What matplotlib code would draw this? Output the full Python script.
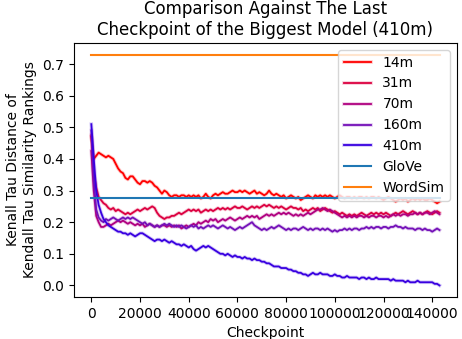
import numpy as np
import matplotlib
matplotlib.use("Agg")
import matplotlib.pyplot as plt
import matplotlib.patheffects as pe

# checkpoints every 1000 steps
checkpoints = np.arange(0, 144000, 1000)

d14m = [0.47, 0.40, 0.41, 0.42, 0.415, 0.41, 0.405, 0.41, 0.405, 0.40, 0.385, 0.37,
        0.36, 0.355, 0.34, 0.335, 0.345, 0.345, 0.335, 0.325, 0.32, 0.33, 0.33, 0.325,
        0.33, 0.325, 0.315, 0.31, 0.30, 0.29, 0.30, 0.295, 0.285, 0.28, 0.285, 0.285,
        0.28, 0.285, 0.285, 0.28, 0.285, 0.28, 0.285, 0.28, 0.285, 0.275, 0.28, 0.29,
        0.28, 0.275, 0.285, 0.29, 0.285, 0.29, 0.295, 0.29, 0.29, 0.295, 0.30, 0.295,
        0.295, 0.30, 0.295, 0.30, 0.295, 0.29, 0.295, 0.30, 0.29, 0.295, 0.29, 0.285,
        0.29, 0.30, 0.29, 0.285, 0.29, 0.285, 0.28, 0.285, 0.275, 0.28, 0.285, 0.28,
        0.275, 0.28, 0.27, 0.275, 0.28, 0.285, 0.28, 0.275, 0.285, 0.28, 0.285, 0.28,
        0.285, 0.28, 0.285, 0.28, 0.275, 0.28, 0.285, 0.28, 0.275, 0.28, 0.28, 0.275,
        0.28, 0.275, 0.28, 0.28, 0.275, 0.28, 0.275, 0.28, 0.28, 0.275, 0.28, 0.275,
        0.27, 0.275, 0.28, 0.275, 0.27, 0.265, 0.27, 0.275, 0.27, 0.275, 0.265, 0.27,
        0.275, 0.27, 0.275, 0.27, 0.275, 0.27, 0.27, 0.275, 0.27, 0.265, 0.26, 0.265]

d31m = [0.475, 0.36, 0.31, 0.28, 0.27, 0.26, 0.255, 0.245, 0.24, 0.245, 0.235, 0.24,
        0.235, 0.23, 0.225, 0.23, 0.225, 0.23, 0.235, 0.24, 0.235, 0.24, 0.245, 0.24,
        0.245, 0.25, 0.245, 0.23, 0.22, 0.215, 0.21, 0.215, 0.215, 0.22, 0.22, 0.225,
        0.23, 0.225, 0.23, 0.235, 0.24, 0.235, 0.24, 0.235, 0.24, 0.23, 0.235, 0.24,
        0.235, 0.24, 0.235, 0.24, 0.245, 0.24, 0.245, 0.24, 0.245, 0.24, 0.245, 0.25,
        0.245, 0.245, 0.25, 0.245, 0.24, 0.245, 0.25, 0.245, 0.25, 0.245, 0.25, 0.255,
        0.25, 0.255, 0.25, 0.245, 0.25, 0.245, 0.25, 0.245, 0.24, 0.245, 0.25, 0.245,
        0.245, 0.24, 0.245, 0.235, 0.24, 0.235, 0.24, 0.245, 0.24, 0.245, 0.235, 0.24,
        0.245, 0.24, 0.235, 0.23, 0.235, 0.23, 0.225, 0.23, 0.225, 0.22, 0.225, 0.22,
        0.225, 0.22, 0.225, 0.23, 0.225, 0.22, 0.225, 0.23, 0.225, 0.23, 0.225, 0.23,
        0.225, 0.23, 0.225, 0.22, 0.225, 0.23, 0.225, 0.23, 0.235, 0.23, 0.225, 0.23,
        0.235, 0.23, 0.225, 0.23, 0.225, 0.23, 0.235, 0.23, 0.225, 0.23, 0.235, 0.23]

d70m = [0.425, 0.30, 0.22, 0.20, 0.185, 0.185, 0.19, 0.195, 0.19, 0.195, 0.20, 0.205,
        0.20, 0.205, 0.20, 0.195, 0.20, 0.195, 0.19, 0.195, 0.19, 0.195, 0.185, 0.19,
        0.195, 0.19, 0.185, 0.19, 0.185, 0.19, 0.19, 0.185, 0.19, 0.185, 0.19, 0.185,
        0.19, 0.18, 0.185, 0.19, 0.185, 0.19, 0.195, 0.19, 0.20, 0.195, 0.20, 0.205,
        0.20, 0.21, 0.205, 0.21, 0.20, 0.205, 0.21, 0.205, 0.21, 0.215, 0.21, 0.205,
        0.21, 0.215, 0.21, 0.215, 0.22, 0.215, 0.22, 0.215, 0.22, 0.21, 0.215, 0.22,
        0.225, 0.22, 0.225, 0.22, 0.225, 0.23, 0.225, 0.23, 0.225, 0.23, 0.225, 0.22,
        0.225, 0.22, 0.225, 0.22, 0.225, 0.23, 0.225, 0.23, 0.235, 0.24, 0.24, 0.245,
        0.24, 0.235, 0.24, 0.235, 0.23, 0.225, 0.22, 0.215, 0.22, 0.215, 0.22, 0.215,
        0.22, 0.215, 0.22, 0.22, 0.215, 0.22, 0.215, 0.22, 0.22, 0.215, 0.22, 0.22,
        0.215, 0.22, 0.215, 0.22, 0.225, 0.22, 0.225, 0.22, 0.225, 0.225, 0.22, 0.225,
        0.225, 0.23, 0.225, 0.23, 0.225, 0.23, 0.23, 0.225, 0.23, 0.235, 0.23, 0.225]

d160m = [0.49, 0.33, 0.24, 0.215, 0.205, 0.20, 0.21, 0.205, 0.21, 0.215, 0.21, 0.205,
         0.21, 0.215, 0.21, 0.215, 0.21, 0.215, 0.21, 0.205, 0.20, 0.195, 0.20, 0.19,
         0.195, 0.19, 0.185, 0.19, 0.185, 0.19, 0.195, 0.19, 0.195, 0.19, 0.185, 0.19,
         0.185, 0.19, 0.185, 0.18, 0.185, 0.19, 0.185, 0.19, 0.18, 0.185, 0.18, 0.185,
         0.19, 0.185, 0.19, 0.185, 0.18, 0.185, 0.19, 0.185, 0.18, 0.185, 0.18, 0.175,
         0.18, 0.185, 0.18, 0.185, 0.19, 0.195, 0.20, 0.19, 0.185, 0.18, 0.175, 0.18,
         0.175, 0.18, 0.185, 0.18, 0.185, 0.19, 0.185, 0.18, 0.175, 0.18, 0.175, 0.18,
         0.18, 0.175, 0.18, 0.185, 0.18, 0.175, 0.18, 0.175, 0.18, 0.18, 0.175, 0.18,
         0.175, 0.18, 0.175, 0.17, 0.175, 0.17, 0.175, 0.175, 0.18, 0.175, 0.18, 0.175,
         0.18, 0.18, 0.175, 0.18, 0.18, 0.185, 0.18, 0.185, 0.18, 0.185, 0.185, 0.18,
         0.185, 0.185, 0.18, 0.185, 0.185, 0.19, 0.185, 0.185, 0.18, 0.185, 0.18, 0.18,
         0.18, 0.175, 0.18, 0.18, 0.175, 0.18, 0.175, 0.175, 0.17, 0.175, 0.18, 0.175]

d410m = [0.51, 0.40, 0.30, 0.255, 0.23, 0.21, 0.20, 0.19, 0.185, 0.18, 0.175, 0.17,
         0.17, 0.165, 0.165, 0.16, 0.165, 0.16, 0.155, 0.16, 0.165, 0.165, 0.16, 0.155,
         0.15, 0.145, 0.14, 0.145, 0.145, 0.14, 0.145, 0.14, 0.135, 0.14, 0.135, 0.13,
         0.13, 0.125, 0.13, 0.125, 0.12, 0.125, 0.115, 0.11, 0.115, 0.12, 0.125, 0.12,
         0.125, 0.12, 0.115, 0.11, 0.105, 0.10, 0.10, 0.095, 0.10, 0.095, 0.09, 0.095,
         0.09, 0.09, 0.085, 0.09, 0.085, 0.085, 0.08, 0.085, 0.08, 0.08, 0.075, 0.075,
         0.07, 0.07, 0.065, 0.06, 0.06, 0.06, 0.055, 0.055, 0.055, 0.05, 0.05, 0.045,
         0.045, 0.04, 0.04, 0.035, 0.035, 0.03, 0.035, 0.04, 0.035, 0.035, 0.04, 0.035,
         0.035, 0.035, 0.03, 0.03, 0.035, 0.03, 0.03, 0.025, 0.025, 0.03, 0.025, 0.025,
         0.025, 0.025, 0.02, 0.025, 0.025, 0.02, 0.025, 0.02, 0.02, 0.025, 0.02, 0.02,
         0.02, 0.02, 0.02, 0.015, 0.02, 0.015, 0.015, 0.015, 0.015, 0.01, 0.015, 0.01,
         0.01, 0.01, 0.015, 0.01, 0.01, 0.01, 0.01, 0.01, 0.01, 0.005, 0.005, 0.0]

models = ['14m', '31m', '70m', '160m', '410m']
series = [d14m, d31m, d70m, d160m, d410m]
colors = ['#ff0000', '#dc0040', '#b00080', '#7410b8', '#3800e0']

glove = 0.278
wordsim = 0.73

fig = plt.figure(figsize=(4.62, 3.39), dpi=100)
ax = fig.add_subplot(111)
fig.subplots_adjust(left=0.16, right=0.989, bottom=0.124, top=0.873)

for name, vals, c in zip(models, series, colors):
    ax.plot(checkpoints, vals, color=c, lw=1.3, label=name,
            path_effects=[pe.Stroke(linewidth=2.6, foreground=c, alpha=0.22), pe.Normal()])

ends = [checkpoints[0], checkpoints[-1]]
ax.plot(ends, [glove, glove], color='C0', lw=1.5, label='GloVe')
ax.plot(ends, [wordsim, wordsim], color='C1', lw=1.5, label='WordSim')

ax.set_yticks(np.arange(0, 0.71, 0.1))
ax.set_xlabel('Checkpoint')
ax.set_ylabel('Kenall Tau Distance of\nKendall Tau Similarity Rankings')
ax.set_title('Comparison Against The Last\nCheckpoint of the Biggest Model (410m)', fontsize=12)
ax.legend(loc='upper right')

fig.savefig('out.png', dpi=100)
